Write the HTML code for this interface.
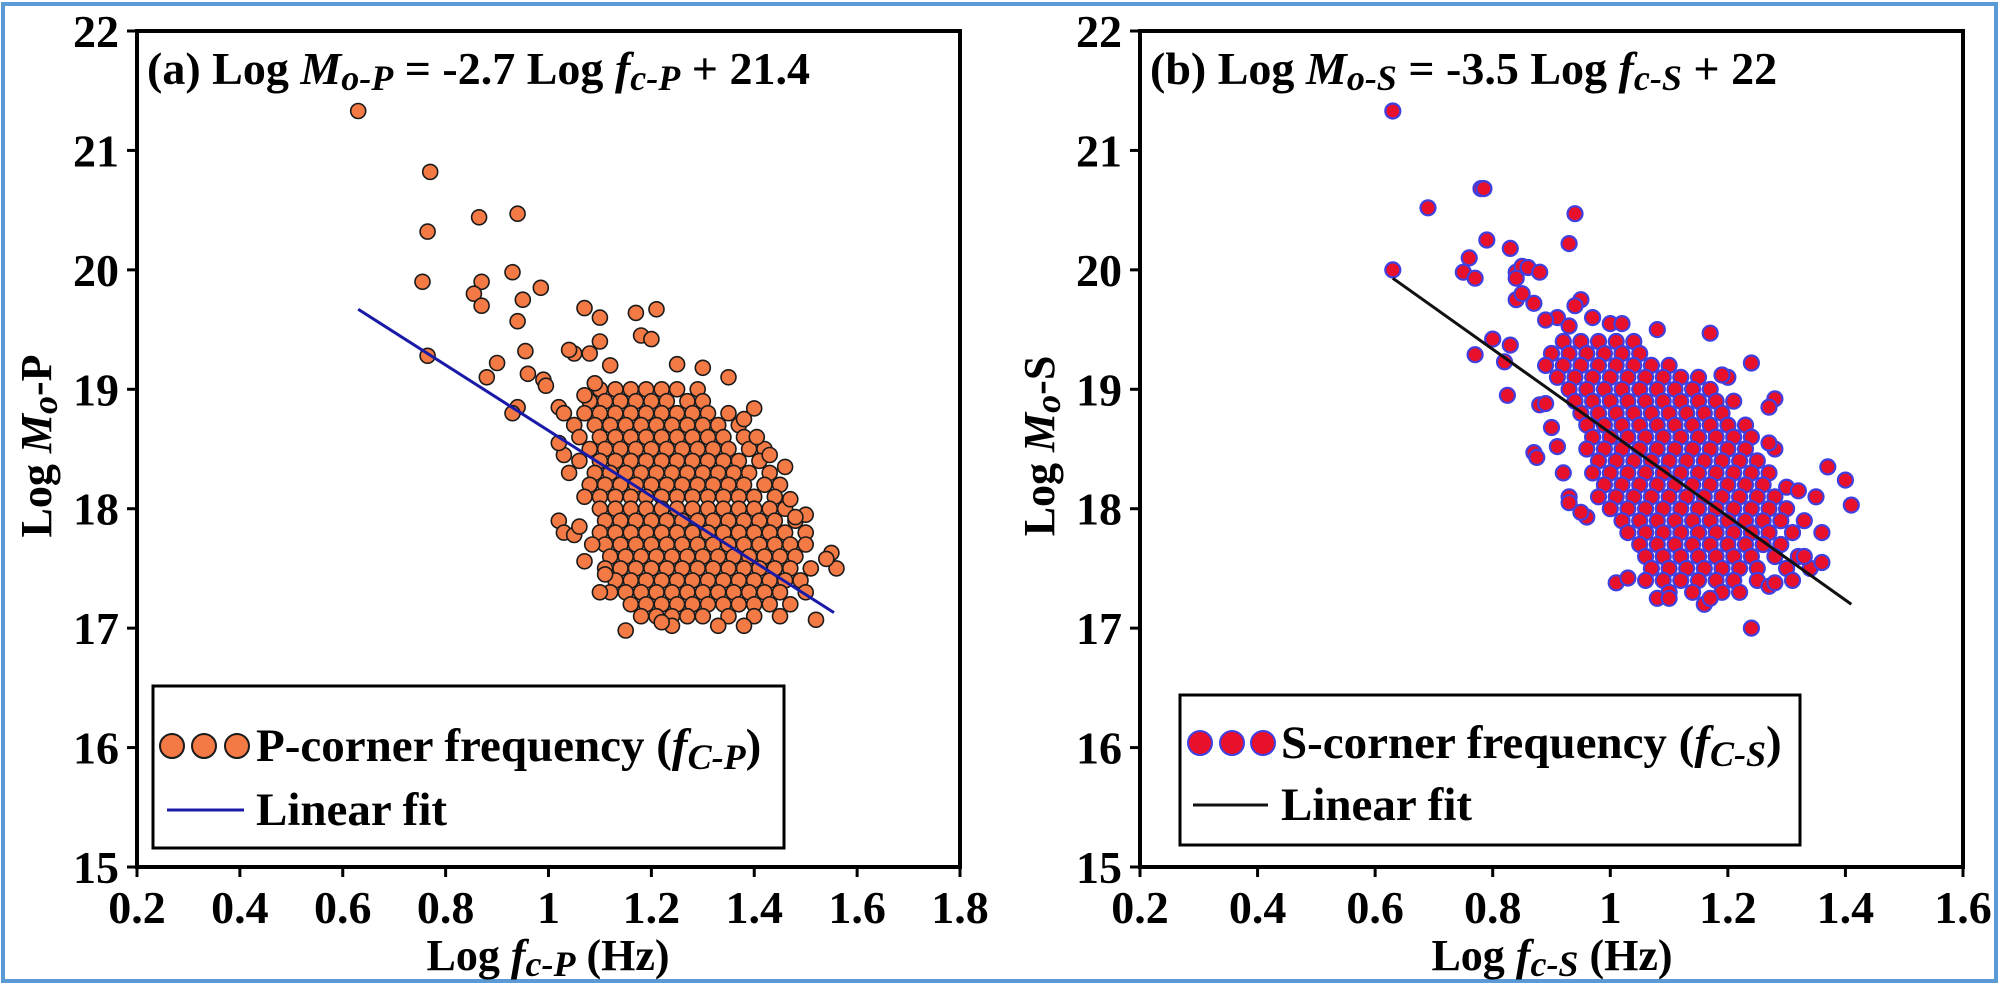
<!DOCTYPE html>
<html><head><meta charset="utf-8"><style>
html,body{margin:0;padding:0;background:#fff;}
svg{display:block;font-family:"Liberation Serif",serif;font-weight:bold;}
</style></head><body>
<svg id="fig" width="2000" height="986" viewBox="0 0 2000 986" xmlns="http://www.w3.org/2000/svg">
<rect x="3" y="4" width="1993" height="977" fill="#fff" stroke="#5b9bd5" stroke-width="4"/>
</svg>
<script>
// ---------- Panel (a) data ----------
const xTicksP = [0.2,0.4,0.6,0.8,1,1.2,1.4,1.6,1.8];
const yTicks = [15,16,17,18,19,20,21,22];
const fcOutP = [0.63,0.77,0.765,0.755,0.865,0.94,0.93,0.87,0.855,0.87,0.985,0.95,0.94,0.765,0.88,0.9,0.94,0.93,0.955,0.96,0.99,0.995,1.07,1.1,1.17,1.21,1.18,1.2,1.25,1.3,1.35,1.4,1.38,1.405,1.43,1.46,1.47,1.5,1.48,1.55,1.56,1.54,1.52,1.15,1.33,1.38,1.24,1.22,1.02,1.03,1.05,1.06,1.07,1.085,1.1,1.11,1.03,1.02,1.04,1.02,1.03,1.07,1.05,1.04,1.08,1.1,1.12,1.09];
const moOutP = [21.33,20.82,20.32,19.9,20.44,20.47,19.98,19.9,19.8,19.7,19.85,19.75,19.57,19.28,19.1,19.22,18.85,18.8,19.32,19.13,19.08,19.03,19.68,19.6,19.64,19.67,19.45,19.42,19.21,19.18,19.1,18.84,18.75,18.6,18.45,18.35,18.08,17.95,17.93,17.63,17.5,17.58,17.07,16.98,17.02,17.02,17.02,17.05,17.9,17.8,17.78,17.85,17.56,17.7,17.3,17.45,18.45,18.55,18.3,18.85,18.8,18.95,19.3,19.33,19.3,19.4,19.2,19.05];
const moRowsP = [19.0,18.9,18.8,18.7,18.6,18.5,18.4,18.3,18.2,18.1,18.0,17.9,17.8,17.7,17.6,17.5,17.4,17.3,17.2,17.1];
const fcRowsP = [
 [1.1,1.13,1.16,1.19,1.22,1.25,1.29],
 [1.08,1.11,1.14,1.17,1.2,1.23,1.27,1.3],
 [1.07,1.1,1.13,1.16,1.19,1.22,1.25,1.28,1.31,1.35],
 [1.05,1.09,1.12,1.15,1.18,1.21,1.24,1.27,1.3,1.33,1.37],
 [1.06,1.1,1.13,1.16,1.19,1.22,1.25,1.28,1.31,1.34,1.38],
 [1.08,1.11,1.14,1.17,1.2,1.23,1.26,1.29,1.32,1.35,1.39,1.42],
 [1.06,1.1,1.13,1.16,1.19,1.22,1.25,1.28,1.31,1.34,1.37,1.41],
 [1.09,1.12,1.15,1.18,1.21,1.24,1.27,1.3,1.33,1.36,1.39,1.43],
 [1.08,1.11,1.14,1.17,1.2,1.23,1.26,1.29,1.32,1.35,1.38,1.42,1.45],
 [1.07,1.1,1.13,1.16,1.19,1.22,1.25,1.28,1.31,1.34,1.37,1.4,1.44],
 [1.1,1.13,1.16,1.19,1.22,1.25,1.28,1.31,1.34,1.37,1.4,1.43,1.46],
 [1.11,1.14,1.17,1.2,1.23,1.26,1.29,1.32,1.35,1.38,1.41,1.44,1.48],
 [1.1,1.13,1.16,1.19,1.22,1.25,1.28,1.31,1.34,1.37,1.4,1.43,1.46,1.5],
 [1.11,1.14,1.17,1.2,1.23,1.26,1.29,1.32,1.35,1.38,1.41,1.44,1.47,1.5],
 [1.12,1.15,1.18,1.21,1.24,1.27,1.3,1.33,1.36,1.39,1.42,1.45,1.48],
 [1.11,1.14,1.17,1.2,1.23,1.26,1.29,1.32,1.35,1.38,1.41,1.44,1.47,1.51],
 [1.13,1.16,1.19,1.22,1.25,1.28,1.31,1.34,1.37,1.4,1.43,1.46,1.49],
 [1.12,1.15,1.18,1.21,1.24,1.27,1.3,1.33,1.36,1.39,1.42,1.45,1.5],
 [1.16,1.19,1.22,1.25,1.28,1.31,1.34,1.37,1.4,1.43,1.47],
 [1.18,1.21,1.24,1.27,1.3,1.35,1.4,1.45]
];
const fitFcP = [0.63,1.555];
const fitMoP = [19.67,17.13];

// ---------- Panel (b) data ----------
const xTicksS = [0.2,0.4,0.6,0.8,1,1.2,1.4,1.6];
const fcOutS = [0.63,0.63,0.69,0.78,0.785,0.94,0.93,0.79,0.76,0.75,0.77,0.83,0.84,0.85,0.86,0.88,0.84,0.87,0.84,0.85,0.77,0.8,0.83,0.82,0.825,0.87,0.875,0.88,0.89,0.9,0.91,0.92,0.93,0.93,0.96,0.95,1.01,1.03,1.08,1.1,1.16,1.17,1.24,1.27,1.28,1.31,1.37,1.4,1.41,1.35,1.36,1.33,1.36,1.24,1.17,1.08,1.28,1.27,1.28,1.27,1.3,1.32,1.2,1.19,0.95,0.94,0.97,1.0,1.02,0.91,0.89,0.93];
const moOutS = [21.33,20.0,20.52,20.68,20.68,20.47,20.22,20.25,20.1,19.98,19.93,20.18,19.98,20.03,20.02,19.98,19.93,19.72,19.75,19.8,19.29,19.42,19.37,19.23,18.95,18.47,18.43,18.87,18.88,18.68,18.52,18.3,18.1,18.05,17.93,17.97,17.38,17.42,17.25,17.25,17.2,17.25,17.0,17.35,17.38,17.4,18.35,18.24,18.03,18.1,17.8,17.6,17.55,19.22,19.47,19.5,18.92,18.85,18.5,18.55,18.18,18.15,19.1,19.12,19.75,19.7,19.6,19.55,19.55,19.6,19.58,19.53];
const moRowsS = [19.4,19.3,19.2,19.1,19.0,18.9,18.8,18.7,18.6,18.5,18.4,18.3,18.2,18.1,18.0,17.9,17.8,17.7,17.6,17.5,17.4,17.3];
const fcRowsS = [
 [0.92,0.95,0.98,1.01,1.04],
 [0.9,0.93,0.96,0.99,1.02,1.05],
 [0.89,0.92,0.95,0.98,1.01,1.04,1.07,1.1],
 [0.91,0.94,0.97,1.0,1.03,1.06,1.09,1.12,1.15],
 [0.93,0.96,0.99,1.02,1.05,1.08,1.11,1.14,1.17],
 [0.94,0.97,1.0,1.03,1.06,1.09,1.12,1.15,1.18,1.21],
 [0.95,0.98,1.01,1.04,1.07,1.1,1.13,1.16,1.19],
 [0.96,0.99,1.02,1.05,1.08,1.11,1.14,1.17,1.2,1.23],
 [0.97,1.0,1.03,1.06,1.09,1.12,1.15,1.18,1.21,1.24],
 [0.96,0.99,1.02,1.05,1.08,1.11,1.14,1.17,1.2,1.23],
 [0.98,1.01,1.04,1.07,1.1,1.13,1.16,1.19,1.22,1.25],
 [0.97,1.0,1.03,1.06,1.09,1.12,1.15,1.18,1.21,1.24,1.27],
 [0.99,1.02,1.05,1.08,1.11,1.14,1.17,1.2,1.23,1.26],
 [0.98,1.01,1.04,1.07,1.1,1.13,1.16,1.19,1.22,1.25,1.28],
 [1.0,1.03,1.06,1.09,1.12,1.15,1.18,1.21,1.24,1.27,1.3],
 [1.02,1.05,1.08,1.11,1.14,1.17,1.2,1.23,1.26,1.29,1.33],
 [1.03,1.06,1.09,1.12,1.15,1.18,1.21,1.24,1.27,1.31],
 [1.05,1.08,1.11,1.14,1.17,1.2,1.23,1.26,1.29],
 [1.06,1.09,1.12,1.15,1.18,1.21,1.24,1.28,1.32],
 [1.07,1.1,1.13,1.16,1.19,1.22,1.25,1.3,1.34],
 [1.06,1.09,1.12,1.15,1.18,1.21,1.25],
 [1.1,1.14,1.19,1.22]
];
const fitFcS = [0.63,1.41];
const fitMoS = [19.93,17.2];

const NS = "http://www.w3.org/2000/svg";
const svg = document.getElementById('fig');
function mk(tag, attrs, parent, text){
  const e = document.createElementNS(NS, tag);
  for (const k in attrs) e.setAttribute(k, attrs[k]);
  if (text !== undefined) e.textContent = text;
  (parent || svg).appendChild(e);
  return e;
}

function panel(cfg){
  const g = mk('g', {});
  
  
  const L = cfg.left, R = cfg.right, T = 31, B = 867;
  const xMin = cfg.xTicks[0], xMax = cfg.xTicks[cfg.xTicks.length-1];
  const sx = v => L + (v - xMin) / (xMax - xMin) * (R - L);
  const sy = v => B - (v - 15) / 7 * (B - T);

  const pts = mk('g', {}, g);
  
  
  function dot(x, y){
    const c = mk('circle', {cx: sx(x).toFixed(1), cy: sy(y).toFixed(1), r: 7.5, fill: cfg.fill, stroke: cfg.stroke, 'stroke-width': cfg.sw}, pts);
    
    
  }
  cfg.rowsY.forEach((y, i) => cfg.rowsX[i].forEach(x => dot(x, y)));
  cfg.outX.forEach((x, i) => dot(x, cfg.outY[i]));

  const fl = mk('line', {x1: sx(cfg.fitX[0]), y1: sy(cfg.fitY[0]), x2: sx(cfg.fitX[1]), y2: sy(cfg.fitY[1]), stroke: cfg.lineColor, 'stroke-width': 3}, g);
  
  

  const fr = mk('rect', {x: L, y: T, width: R - L, height: B - T, fill: 'none', stroke: '#000', 'stroke-width': 4}, g);
  
  

  yTicks.forEach(v => {
    const y = sy(v);
    const t = mk('line', {x1: L - 10, y1: y, x2: L, y2: y, stroke: '#000', 'stroke-width': 3}, g);
    
    
    const lb = mk('text', {x: L - 18, y: y + 16, 'text-anchor': 'end', 'font-size': 46}, g, String(v));
    
    
  });
  cfg.xTicks.forEach(v => {
    const x = sx(v);
    const t = mk('line', {x1: x, y1: B, x2: x, y2: B + 10, stroke: '#000', 'stroke-width': 3}, g);
    
    
    const lb = mk('text', {x: x, y: B + 56, 'text-anchor': 'middle', 'font-size': 46}, g, String(v));
    
    
  });

  const ti = mk('text', {x: L + 10, y: T + 53, 'font-size': 46}, g);
  
  
  ti.innerHTML = cfg.titleHTML;

  const xt = mk('text', {x: cfg.xTitleX, y: 970, 'text-anchor': 'middle', 'font-size': 44}, g);
  
  
  xt.innerHTML = cfg.xTitleHTML;
  const yt = mk('text', {x: 0, y: 0, 'text-anchor': 'middle', 'font-size': 44, transform: 'translate(' + (cfg.left - 86) + ',446) rotate(-90)'}, g);
  
  
  yt.innerHTML = cfg.yTitleHTML;

  const lg = mk('g', {}, g);
  
  
  const lb = cfg.legend;
  mk('rect', {x: lb.x, y: lb.y, width: lb.w, height: lb.h, fill: '#fff', stroke: '#000', 'stroke-width': 3}, lg);
  const e1 = mk('g', {}, lg);
  
  
  lb.mx.forEach(mx => mk('circle', {cx: mx, cy: lb.my, r: 12, fill: cfg.fill, stroke: cfg.stroke, 'stroke-width': 2}, e1));
  const t1 = mk('text', {x: lb.tx, y: lb.my + 15, 'font-size': 47}, e1);
  t1.innerHTML = lb.label;
  const e2 = mk('g', {}, lg);
  
  
  mk('line', {x1: lb.lx1, y1: lb.ly, x2: lb.lx2, y2: lb.ly, stroke: cfg.lineColor, 'stroke-width': 3}, e2);
  mk('text', {x: lb.tx, y: lb.ly + 15, 'font-size': 47}, e2, 'Linear fit');
}

panel({
  name: 'panel-a-p-wave', left: 137, right: 960, xTicks: xTicksP,
  rowsY: moRowsP, rowsX: fcRowsP, outX: fcOutP, outY: moOutP,
  fitX: fitFcP, fitY: fitMoP,
  fill: '#f37a45', stroke: '#1a1a1a', sw: 1.6, lineColor: '#1a1aa8',
  titleHTML: '(a)  Log <tspan font-style="italic">M</tspan><tspan font-style="italic" font-size="36" dy="6">o-P</tspan><tspan dy="-6"> = -2.7 Log  </tspan><tspan font-style="italic">f</tspan><tspan font-style="italic" font-size="36" dy="6">c-P</tspan><tspan dy="-6"> + 21.4</tspan>',
  xTitleX: 548,
  xTitleHTML: 'Log  <tspan font-style="italic">f</tspan><tspan font-style="italic" font-size="36" dy="6">c-P</tspan><tspan dy="-6"> (Hz)</tspan>',
  yTitleHTML: 'Log <tspan font-style="italic">M</tspan><tspan font-style="italic" font-size="36" dy="6">o</tspan><tspan dy="-6">-P</tspan>',
  legend: {x: 153, y: 686, w: 631, h: 162, mx: [172,204,237], my: 746, tx: 256, lx1: 167, lx2: 244, ly: 810,
    label: 'P-corner frequency (<tspan font-style="italic">f</tspan><tspan font-style="italic" font-size="36" dy="8">C-P</tspan><tspan dy="-8">)</tspan>'}
});

panel({
  name: 'panel-b-s-wave', left: 1140, right: 1963, xTicks: xTicksS,
  rowsY: moRowsS, rowsX: fcRowsS, outX: fcOutS, outY: moOutS,
  fitX: fitFcS, fitY: fitMoS,
  fill: '#e8102a', stroke: '#4040e0', sw: 2.2, lineColor: '#111',
  titleHTML: '(b)  Log <tspan font-style="italic">M</tspan><tspan font-style="italic" font-size="36" dy="6">o-S</tspan><tspan dy="-6"> = -3.5 Log  </tspan><tspan font-style="italic">f</tspan><tspan font-style="italic" font-size="36" dy="6">c-S</tspan><tspan dy="-6"> + 22</tspan>',
  xTitleX: 1552,
  xTitleHTML: 'Log  <tspan font-style="italic">f</tspan><tspan font-style="italic" font-size="36" dy="6">c-S</tspan><tspan dy="-6"> (Hz)</tspan>',
  yTitleHTML: 'Log <tspan font-style="italic">M</tspan><tspan font-style="italic" font-size="36" dy="6">o</tspan><tspan dy="-6">-S</tspan>',
  legend: {x: 1180, y: 695, w: 620, h: 150, mx: [1200,1232,1263], my: 743, tx: 1281, lx1: 1193, lx2: 1268, ly: 805,
    label: 'S-corner frequency (<tspan font-style="italic">f</tspan><tspan font-style="italic" font-size="36" dy="8">C-S</tspan><tspan dy="-8">)</tspan>'}
});
</script>
</body></html>
